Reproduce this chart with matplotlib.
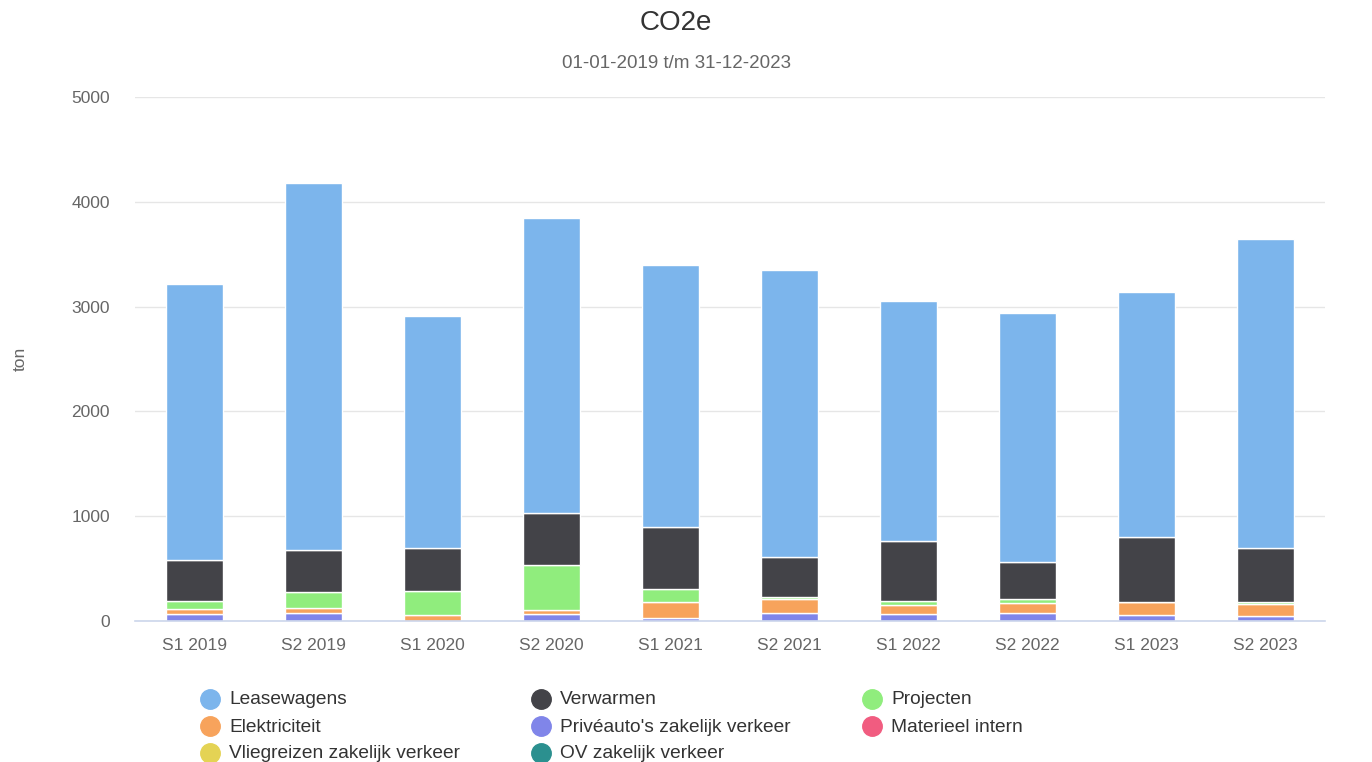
import numpy as np
import matplotlib
matplotlib.use("Agg")
import matplotlib.pyplot as plt
from matplotlib.lines import Line2D

plt.rcParams["font.family"] = ["Liberation Sans", "DejaVu Sans"]

# -----------------------------------------------------
# data (ton CO2e per half year)
# -----------------------------------------------------
periods = ["S1 2019", "S2 2019", "S1 2020", "S2 2020", "S1 2021",
           "S2 2021", "S1 2022", "S2 2022", "S1 2023", "S2 2023"]

leasewagens = [2632, 3500, 2206, 2816, 2495, 2734, 2286, 2371, 2343, 2944]
verwarmen = [387, 403, 414, 493, 595, 386, 572, 353, 615, 520]
projecten = [81, 153, 229, 429, 121, 15, 41, 44, 5, 15]
elektriciteit = [47, 45, 55, 41, 154, 140, 89, 96, 120, 120]
priveauto = [67, 76, 3, 64, 30, 72, 64, 73, 60, 45]
materieel = [0, 0, 0, 0, 0, 0, 0, 0, 0, 0]
vliegreizen = [0, 0, 0, 0, 0, 0, 0, 0, 0, 0]
ov = [0, 0, 0, 0, 0, 0, 0, 0, 0, 0]

series_names = ["Leasewagens", "Verwarmen", "Projecten", "Elektriciteit",
                "Privéauto's zakelijk verkeer", "Materieel intern",
                "Vliegreizen zakelijk verkeer", "OV zakelijk verkeer"]
series_values = [leasewagens, verwarmen, projecten, elektriciteit,
                 priveauto, materieel, vliegreizen, ov]
colors = ["#7cb5ec", "#434348", "#90ed7d", "#f7a35c",
          "#8085e9", "#f15c80", "#e4d354", "#2b908f"]

# -----------------------------------------------------
# figure
# -----------------------------------------------------
W, H = 1372, 762
fig = plt.figure(figsize=(W / 100, H / 100), dpi=100)

left, right, top, bottom = 135, 1325, 97, 621
ax = fig.add_axes([left / W, 1 - bottom / H, (right - left) / W, (bottom - top) / H])

x = np.arange(len(periods))
base = np.zeros(len(periods))

# bottom of the stack is the last series
for name, vals, col in reversed(list(zip(series_names, series_values, colors))):
    vals = np.asarray(vals, dtype=float)
    ax.bar(x, vals, bottom=base, width=0.48, color=col,
           edgecolor="white", linewidth=1, zorder=3)
    base += vals

ax.set_xlim(-0.5, len(periods) - 0.5)
ax.set_ylim(0, 5000)
ax.set_yticks([0, 1000, 2000, 3000, 4000, 5000])
ax.set_xticks(x)
ax.set_xticklabels(periods)

ax.grid(axis="y", color="#e6e6e6", linewidth=1, zorder=0)
ax.grid(axis="x", visible=False)
for s in ["top", "right", "left"]:
    ax.spines[s].set_visible(False)
ax.spines["bottom"].set_color("#ccd6eb")
ax.spines["bottom"].set_linewidth(1.2)
ax.spines["bottom"].set_zorder(4)

ax.tick_params(axis="y", length=0, pad=18, labelsize=12.5, labelcolor="#666666")
ax.tick_params(axis="x", length=0, pad=12, labelsize=12.5, labelcolor="#666666")

ax.set_ylabel("ton", fontsize=12.5, color="#666666", labelpad=0)
ax.yaxis.set_label_coords(-(left - 20) / (right - left), 0.5)
ax.yaxis.label.set_va("center")

cx_title = 676 / W
fig.text(cx_title, 1 - 23 / H, "CO2e", ha="center", va="center",
         fontsize=20, color="#333333")
fig.text(cx_title, 1 - 64 / H, "01-01-2019 t/m 31-12-2023", ha="center",
         va="center", fontsize=13.5, color="#666666")

# -----------------------------------------------------
# legend (Highcharts style, 3 columns)
# -----------------------------------------------------
for i, (name, col) in enumerate(zip(series_names, colors)):
    cx = 210 + (i % 3) * 331
    cy = 699 + (i // 3) * 27
    fig.add_artist(Line2D([cx / W], [1 - cy / H], marker="o", markersize=14,
                          color=col, linestyle="none",
                          transform=fig.transFigure))
    fig.text((cx + 19) / W, 1 - (cy + 1) / H, name, ha="left", va="center",
             fontsize=13.8, color="#333333")

fig.savefig("out.png", dpi=100, facecolor="white")
